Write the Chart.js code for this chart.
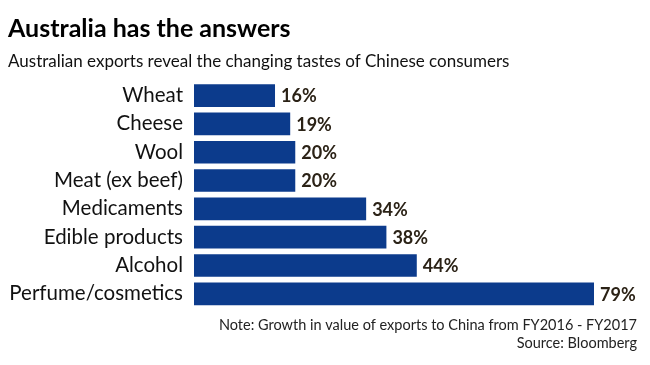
<!DOCTYPE html>
<html>
<head>
<meta charset="utf-8">
<script src="https://cdn.jsdelivr.net/npm/chart.js@4"></script>
<style>
  html, body { margin: 0; padding: 0; background: #fff; }
  #wrap { width: 650px; height: 365px; }
</style>
</head>
<body>
<div id="wrap"><canvas id="myChart"></canvas></div>
<script>
// datos
const categories = [
  "Wheat",
  "Cheese",
  "Wool",
  "Meat (ex beef)",
  "Medicaments",
  "Edible products",
  "Alcohol",
  "Perfume/cosmetics",
];
const growth = [16, 19, 20, 20, 34, 38, 44, 79];

const titleText = "Australia has the answers";
const subtitleText = "Australian exports reveal the changing tastes of Chinese consumers";
const noteText = "Note: Growth in value of exports to China from FY2016 - FY2017";
const sourceText = "Source: Bloomberg";

const fontFamily = "'Source Sans Pro', Lato, 'Open Sans', sans-serif";

// etiquetas de valor al final de cada barra + notas
const valueLabels = {
  id: "valueLabels",
  afterDatasetsDraw(chart) {
    const ctx = chart.ctx;
    const meta = chart.getDatasetMeta(0);
    ctx.save();
    ctx.font = "bold 18px " + fontFamily;
    ctx.fillStyle = "#2b2216";
    ctx.textAlign = "left";
    ctx.textBaseline = "middle";
    meta.data.forEach((bar, i) => {
      ctx.fillText(growth[i] + "%", bar.x + 6, bar.y + 1);
    });
    ctx.restore();
  },
  afterDraw(chart) {
    const ctx = chart.ctx;
    ctx.save();
    ctx.font = "14.5px " + fontFamily;
    ctx.fillStyle = "#222";
    ctx.textAlign = "right";
    ctx.textBaseline = "middle";
    ctx.fillText(noteText, 637, 325);
    ctx.fillText(sourceText, 637, 343);
    ctx.restore();
  },
};

const ctx = document.getElementById("myChart");

new Chart(ctx, {
  type: "bar",
  data: {
    labels: categories,
    datasets: [
      {
        label: "Growth",
        data: growth,
        backgroundColor: "#0c3b8c",
        borderWidth: 0,
        barPercentage: 0.8,
        categoryPercentage: 1,
      },
    ],
  },
  options: {
    indexAxis: "y",
    responsive: true,
    maintainAspectRatio: false,
    animation: false,
    layout: {
      padding: { top: 0, left: 8, right: 56, bottom: 57 },
    },
    scales: {
      x: {
        display: false,
        min: 0,
        max: 79,
      },
      y: {
        grid: { display: false },
        border: { display: false },
        ticks: {
          color: "#111",
          padding: 3,
          font: { family: fontFamily, size: 20.5 },
        },
        afterFit: (axis) => {
          axis.width = 186;
        },
      },
    },
    plugins: {
      legend: { display: false },
      tooltip: { enabled: false },
      title: {
        display: true,
        text: titleText,
        align: "start",
        color: "#000",
        font: { family: fontFamily, size: 25, weight: "bold" },
        padding: { top: 14, bottom: 7 },
      },
      subtitle: {
        display: true,
        text: subtitleText,
        align: "start",
        color: "#111",
        font: { family: fontFamily, size: 17, weight: "normal" },
        padding: { top: 0, bottom: 10 },
      },
    },
  },
  plugins: [valueLabels],
});
</script>
</body>
</html>
